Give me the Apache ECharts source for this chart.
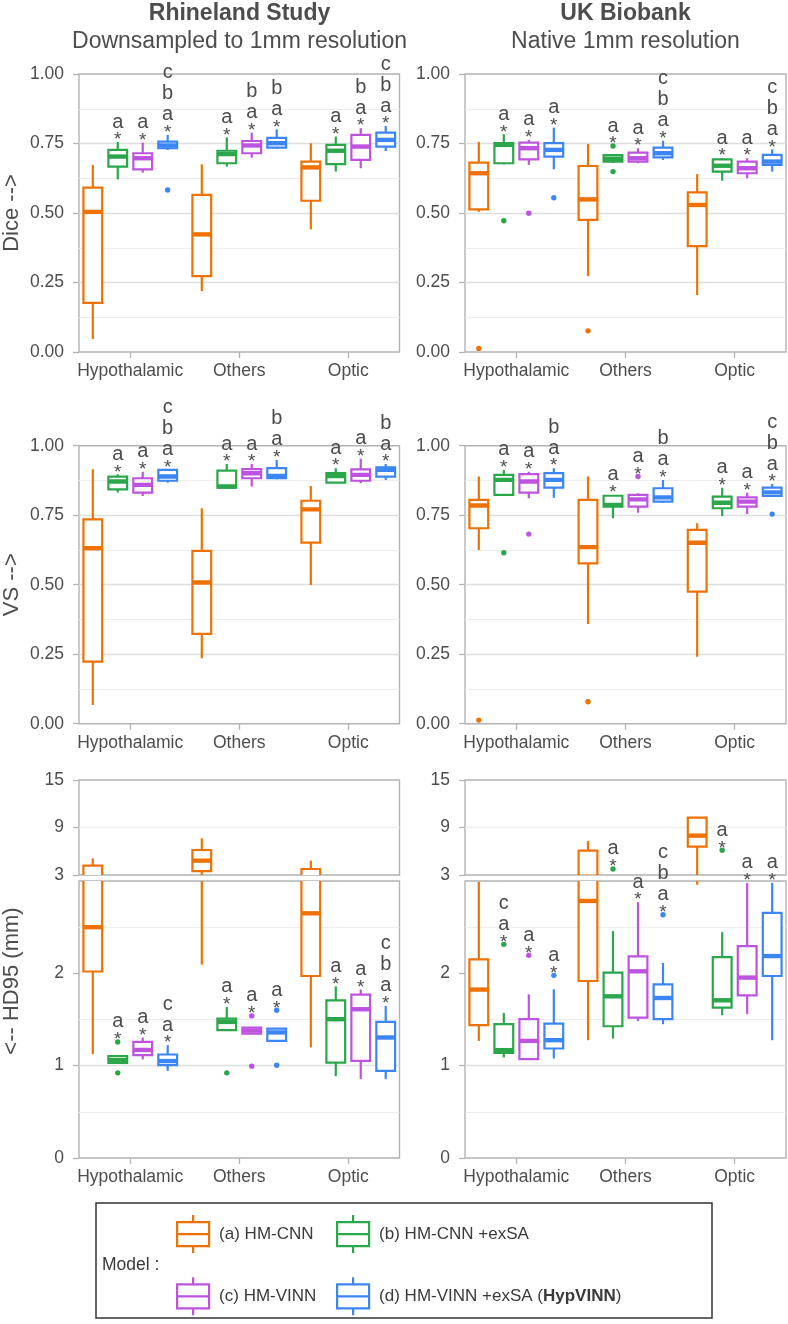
<!DOCTYPE html>
<html><head><meta charset="utf-8">
<script src="https://cdn.jsdelivr.net/npm/echarts@6/dist/echarts.min.js"></script>
<style>html,body{margin:0;padding:0;background:#fff}#chart{width:788px;height:1324px}</style>
</head><body><div id="chart"></div>
<script>
// ---------------- DATA ----------------
const categories = ['Hypothalamic', 'Others', 'Optic'];
const modelNames = ['(a) HM-CNN', '(b) HM-CNN +exSA', '(c) HM-VINN', '(d) HM-VINN +exSA (HypVINN)'];
const unitTicks = [0, 0.25, 0.5, 0.75, 1];
const hdUpperTicks = [3, 9, 15];
const hdLowerTicks = [0, 1, 2];

// box rows: [category index, model index, lower whisker, Q1, median, Q3, upper whisker]
const diceRS = [
  [0,0,0.047,0.177,0.504,0.591,0.673],[0,1,0.621,0.667,0.703,0.727,0.755],[0,2,0.645,0.657,0.697,0.715,0.753],[0,3,0.727,0.733,0.743,0.757,0.781],
  [1,0,0.219,0.273,0.423,0.565,0.675],[1,1,0.667,0.679,0.712,0.724,0.772],[1,2,0.699,0.715,0.743,0.759,0.789],[1,3,0.731,0.735,0.751,0.770,0.801],
  [2,0,0.441,0.544,0.664,0.685,0.751],[2,1,0.649,0.676,0.724,0.745,0.775],[2,2,0.661,0.691,0.739,0.781,0.805],[2,3,0.723,0.739,0.763,0.789,0.813]
];
const diceRSOut = [[0,3,0.583]];
const diceRSSig = [[0,1,'a'],[0,2,'a'],[0,3,'abc'],[1,1,'a'],[1,2,'ab'],[1,3,'ab'],[2,1,'a'],[2,2,'ab'],[2,3,'abc']];

const diceUKB = [
  [0,0,0.504,0.513,0.643,0.681,0.756],[0,1,0.675,0.679,0.745,0.751,0.783],[0,2,0.673,0.693,0.733,0.753,0.763],[0,3,0.657,0.703,0.727,0.751,0.807],
  [1,0,0.273,0.475,0.549,0.669,0.748],[1,1,0.680,0.685,0.695,0.708,0.712],[1,2,0.679,0.685,0.697,0.717,0.733],[1,3,0.691,0.700,0.715,0.735,0.760],
  [2,0,0.205,0.381,0.529,0.574,0.640],[2,1,0.616,0.649,0.670,0.693,0.697],[2,2,0.625,0.643,0.661,0.685,0.697],[2,3,0.649,0.673,0.685,0.709,0.729]
];
const diceUKBOut = [[0,0,0.013],[0,1,0.472],[0,2,0.499],[0,3,0.555],[1,0,0.076],[1,1,0.741],[1,1,0.649]];
const diceUKBSig = [[0,1,'a'],[0,2,'a'],[0,3,'a'],[1,1,'a'],[1,2,'a'],[1,3,'abc'],[2,1,'a'],[2,2,'a'],[2,3,'abc']];

const vsRS = [
  [0,0,0.067,0.223,0.631,0.735,0.915],[0,1,0.832,0.843,0.871,0.889,0.897],[0,2,0.819,0.831,0.859,0.883,0.906],[0,3,0.867,0.874,0.889,0.913,0.915],
  [1,0,0.235,0.323,0.508,0.622,0.775],[1,1,0.847,0.849,0.853,0.910,0.934],[1,2,0.853,0.883,0.901,0.916,0.934],[1,3,0.879,0.883,0.891,0.919,0.949],
  [2,0,0.499,0.651,0.771,0.802,0.855],[2,1,0.865,0.867,0.891,0.901,0.919],[2,2,0.865,0.874,0.895,0.915,0.953],[2,3,0.877,0.889,0.913,0.922,0.934]
];
const vsRSOut = [];
const vsRSSig = [[0,1,'a'],[0,2,'a'],[0,3,'abc'],[1,1,'a'],[1,2,'a'],[1,3,'ab'],[2,1,'a'],[2,2,'a'],[2,3,'ab']];

const vsUKB = [
  [0,0,0.625,0.703,0.785,0.805,0.889],[0,1,0.823,0.823,0.877,0.895,0.913],[0,2,0.811,0.831,0.871,0.898,0.906],[0,3,0.813,0.849,0.877,0.901,0.919],
  [1,0,0.359,0.577,0.635,0.805,0.889],[1,1,0.739,0.781,0.787,0.820,0.823],[1,2,0.759,0.781,0.807,0.823,0.829],[1,3,0.795,0.799,0.814,0.847,0.877],
  [2,0,0.241,0.475,0.651,0.697,0.721],[2,1,0.747,0.775,0.795,0.817,0.849],[2,2,0.754,0.781,0.799,0.814,0.831],[2,3,0.819,0.819,0.832,0.849,0.862]
];
const vsUKBOut = [[0,0,0.013],[0,1,0.615],[0,2,0.682],[1,0,0.079],[1,2,0.889],[2,3,0.754]];
const vsUKBSig = [[0,1,'a'],[0,2,'a'],[0,3,'ab'],[1,1,'a'],[1,2,'a'],[1,3,'ab'],[2,1,'a'],[2,2,'a'],[2,3,'abc']];

const hdRS = [
  [0,0,1.124,2.02,2.50,4.18,5.1],[0,1,1.02,1.031,1.059,1.103,1.11],[0,2,1.067,1.114,1.17,1.257,1.305],[0,3,0.944,1.005,1.05,1.121,1.222],
  [1,0,2.094,3.5,4.81,6.16,7.63],[1,1,1.384,1.384,1.474,1.510,1.636],[1,2,1.348,1.348,1.38,1.413,1.413],[1,3,1.268,1.268,1.36,1.402,1.402],
  [2,0,1.197,1.971,2.65,3.76,4.81],[2,1,0.886,1.034,1.503,1.708,1.859],[2,2,0.854,1.052,1.611,1.770,1.824],[2,3,0.854,0.944,1.305,1.474,1.647]
];
const hdRSOut = [[0,1,1.257],[0,1,0.922],[1,1,0.922],[1,2,1.539],[1,2,0.995],[1,3,1.6],[1,3,1.005]];
const hdRSSig = [[0,1,'a'],[0,2,'a'],[0,3,'ac'],[1,1,'a'],[1,2,'a'],[1,3,'a'],[2,1,'a'],[2,2,'a'],[2,3,'abc']];

const hdUKB = [
  [0,0,1.268,1.438,1.824,2.151,2.99],[0,1,1.089,1.139,1.168,1.449,1.571],[0,2,1.070,1.070,1.268,1.503,1.773],[0,3,1.078,1.186,1.276,1.456,1.827],
  [1,0,1.276,1.917,2.784,6.07,7.29],[1,1,1.294,1.427,1.751,2.008,2.457],[1,2,1.484,1.521,2.022,2.184,2.771],[1,3,1.449,1.503,1.733,1.881,2.112],
  [2,0,2.96,6.58,7.97,10.24,10.3],[2,1,1.546,1.629,1.708,2.176,2.446],[2,2,1.557,1.762,1.954,2.295,2.98],[2,3,1.276,1.971,2.187,2.655,2.98]
];
const hdUKBOut = [[0,1,2.314],[0,2,2.195],[0,3,1.978],[1,1,3.76],[1,3,2.635],[2,1,6.12]];
const hdUKBSig = [[0,1,'ac'],[0,2,'a'],[0,3,'a'],[1,1,'a'],[1,2,'a'],[1,3,'abc'],[2,1,'a'],[2,2,'a'],[2,3,'a']];

// ---------------- STYLE / LAYOUT ----------------
const FONT = "'Liberation Sans', Arial, Helvetica, sans-serif";
const COLORS = ['#EE7203', '#2BA64A', '#BD53DF', '#3B86F3'];
const TEXT = '#4D4D4D';
const BORDER = '#B3B3B3';
const MAJOR = '#DEDEDE', MINOR = '#EDEDED';
const SLOT = 0.229, BOXW = 0.172;
const cols = [{left: 79, width: 320.5}, {left: 465, width: 321}];

const panels = [
  {boxes: diceRS, out: diceRSOut, sig: diceRSSig, col: 0, row: 0},
  {boxes: diceUKB, out: diceUKBOut, sig: diceUKBSig, col: 1, row: 0},
  {boxes: vsRS, out: vsRSOut, sig: vsRSSig, col: 0, row: 1},
  {boxes: vsUKB, out: vsUKBOut, sig: vsUKBSig, col: 1, row: 1},
  {boxes: hdRS, out: hdRSOut, sig: hdRSSig, col: 0, row: 2},
  {boxes: hdUKB, out: hdUKBOut, sig: hdUKBSig, col: 1, row: 2}
];
const rowGrids = [
  [{top: 74, height: 278, kind: 'unit', name: 'Dice -->'}],
  [{top: 445.7, height: 278, kind: 'unit', name: 'VS -->'}],
  [{top: 780, height: 95, kind: 'hdUp'}, {top: 881, height: 277, kind: 'hdLow'}]
];

const grids = [], xAxes = [], yAxes = [], series = [];

function axisFont(size) { return {fontFamily: FONT, fontSize: size, color: TEXT}; }

function makeBoxRenderer(m, outRows) {
  return function (params, api) {
    const cat = api.value(0);
    const unit = api.size([1, 0])[0];
    const cx = api.coord([cat, 0])[0] + (m - 1.5) * SLOT * unit;
    const hw = BOXW * unit / 2;
    const y = i => api.coord([cat, api.value(i)])[1];
    const yLow = y(1), yQ1 = y(2), yMed = y(3), yQ3 = y(4), yHigh = y(5);
    const color = COLORS[m];
    const children = [
      {type: 'line', shape: {x1: cx, y1: yHigh, x2: cx, y2: yQ3}, style: {stroke: color, lineWidth: 2.2}},
      {type: 'line', shape: {x1: cx, y1: yQ1, x2: cx, y2: yLow}, style: {stroke: color, lineWidth: 2.2}},
      {type: 'rect', shape: {x: cx - hw, y: yQ3, width: 2 * hw, height: yQ1 - yQ3}, style: {fill: '#fff', stroke: color, lineWidth: 2.2}},
      {type: 'line', shape: {x1: cx - hw, y1: yMed, x2: cx + hw, y2: yMed}, style: {stroke: color, lineWidth: 4.4}}
    ];
    outRows.forEach(r => {
      if (r[0] + 1 === cat && r[1] === m) {
        const py = api.coord([cat, r[2]])[1];
        children.push({type: 'circle', shape: {cx: cx, cy: py, r: 2.7}, style: {fill: color}});
      }
    });
    return {type: 'group', children};
  };
}

function makeLabelRenderer(letterList) {
  return function (params, api) {
    const cat = api.value(0), anchor = api.value(1), m = api.value(2);
    const unit = api.size([1, 0])[0];
    const cx = api.coord([cat, 0])[0] + (m - 1.5) * SLOT * unit;
    const ay = api.coord([cat, anchor])[1];
    const letters = letterList[params.dataIndex];
    const font = '20px ' + FONT;
    const children = [{type: 'text', x: cx, y: ay - 2,
      style: {text: '*', fill: TEXT, font: '19px ' + FONT, align: 'center', verticalAlign: 'middle', textAlign: 'center', textVerticalAlign: 'middle'}}];
    for (let i = 0; i < letters.length; i++) {
      children.push({type: 'text', x: cx, y: ay - 20 - 21 * i,
        style: {text: letters[i], fill: TEXT, font, align: 'center', verticalAlign: 'middle', textAlign: 'center', textVerticalAlign: 'middle'}});
    }
    return {type: 'group', children};
  };
}

panels.forEach(p => {
  rowGrids[p.row].forEach(g => {
    const gi = grids.length;
    grids.push({left: cols[p.col].left, width: cols[p.col].width, top: g.top, height: g.height,
      show: true, borderColor: BORDER, borderWidth: 1.4, backgroundColor: 'transparent', containLabel: false});
    const showX = g.kind !== 'hdUp';
    xAxes.push({gridIndex: gi, type: 'value', min: 0.53, max: 3.47,
      axisLine: {show: false}, splitLine: {show: false},
      axisTick: {show: showX, customValues: [1, 2, 3], length: 6, lineStyle: {color: BORDER, width: 1.3}},
      axisLabel: Object.assign({show: showX, customValues: [1, 2, 3], margin: 10,
        formatter: v => categories[Math.round(v) - 1] || ''}, axisFont(17.5))});
    let y;
    if (g.kind === 'unit') {
      y = {min: 0, max: 1, interval: 0.25,
        axisLabel: Object.assign({formatter: v => v.toFixed(2), margin: 15}, axisFont(17.5)),
        axisTick: {show: true, length: 6, lineStyle: {color: BORDER, width: 1.3}},
        splitLine: {show: true, showMinLine: false, showMaxLine: false, lineStyle: {color: MAJOR, width: 1.3}},
        minorTick: {show: false, splitNumber: 2},
        minorSplitLine: {show: true, lineStyle: {color: MINOR, width: 1}}};
      if (p.col === 0) {
        y.name = g.name; y.nameLocation = 'middle'; y.nameGap = 56;
        y.nameTextStyle = axisFont(22);
      }
    } else if (g.kind === 'hdUp') {
      y = {min: 3, max: 15, interval: 3,
        axisLabel: Object.assign({customValues: hdUpperTicks, margin: 15}, axisFont(17.5)),
        axisTick: {show: true, customValues: hdUpperTicks, length: 6, lineStyle: {color: BORDER, width: 1.3}},
        splitLine: {show: true, showMinLine: false, showMaxLine: false, lineStyle: {color: [MINOR, MAJOR], width: 1.3}}};
    } else {
      y = {min: 0, max: 3, interval: 1,
        axisLabel: Object.assign({customValues: hdLowerTicks, margin: 15}, axisFont(17.5)),
        axisTick: {show: true, customValues: hdLowerTicks, length: 6, lineStyle: {color: BORDER, width: 1.3}},
        splitLine: {show: true, showMinLine: false, showMaxLine: false, lineStyle: {color: MAJOR, width: 1.3}},
        minorTick: {show: false, splitNumber: 2},
        minorSplitLine: {show: true, lineStyle: {color: MINOR, width: 1}}};
    }
    yAxes.push(Object.assign({gridIndex: gi, type: 'value', axisLine: {show: false}}, y));

    // boxes
    for (let m = 0; m < 4; m++) {
      series.push({type: 'custom', name: modelNames[m], xAxisIndex: gi, yAxisIndex: gi, clip: true,
        itemStyle: {color: COLORS[m], borderColor: COLORS[m]}, silent: true,
        data: p.boxes.filter(r => r[1] === m).map(r => [r[0] + 1, r[2], r[3], r[4], r[5], r[6]]),
        encode: {x: 0, y: [1, 2, 3, 4, 5]},
        renderItem: makeBoxRenderer(m, p.out)});
    }
    // significance labels
    const lData = [], lLetters = [];
    p.sig.forEach(s => {
      const box = p.boxes.find(r => r[0] === s[0] && r[1] === s[1]);
      let anchor = box[6];
      p.out.forEach(o => { if (o[0] === s[0] && o[1] === s[1]) anchor = Math.max(anchor, o[2]); });
      const inGrid = g.kind === 'unit' || (g.kind === 'hdUp' ? anchor > 3 : anchor <= 3);
      if (inGrid) { lData.push([s[0] + 1, anchor, s[1]]); lLetters.push(s[2]); }
    });
    series.push({type: 'custom', name: 'sig', xAxisIndex: gi, yAxisIndex: gi, clip: false, silent: true, z: 5,
      data: lData, encode: {x: 0, y: 1}, renderItem: makeLabelRenderer(lLetters)});
  });
});

const legendIcon = 'path://M16,0L16,7M0,7L32,7L32,31L0,31ZM0,19L32,19M16,31L16,38';
const legendItem = m => ({name: modelNames[m], icon: legendIcon,
  itemStyle: {color: '#fff', borderColor: COLORS[m], borderWidth: 2.2, opacity: 1}});
const legendCommon = {orient: 'vertical', top: 1214, itemWidth: 32, itemHeight: 38, itemGap: 22, padding: 0,
  icon: legendIcon, selectedMode: false,
  textStyle: {fontFamily: FONT, fontSize: 17, color: '#3A3A3A', padding: [0, 0, 0, 5],
    rich: {b: {fontFamily: FONT, fontSize: 17, fontWeight: 'bold', color: '#3A3A3A'}}},
  formatter: name => name.replace('(HypVINN)', '({b|HypVINN})')};

const option = {
  animation: false,
  backgroundColor: '#fff',
  title: [
    {text: 'Rhineland Study', subtext: 'Downsampled to 1mm resolution', left: 239.5, top: 2, textAlign: 'center', padding: 0, itemGap: 5,
      textStyle: {fontFamily: FONT, fontSize: 23, fontWeight: 'bold', color: TEXT},
      subtextStyle: {fontFamily: FONT, fontSize: 23, color: TEXT}},
    {text: 'UK Biobank', subtext: 'Native 1mm resolution', left: 625.5, top: 2, textAlign: 'center', padding: 0, itemGap: 5,
      textStyle: {fontFamily: FONT, fontSize: 23, fontWeight: 'bold', color: TEXT},
      subtextStyle: {fontFamily: FONT, fontSize: 23, color: TEXT}}
  ],
  grid: grids, xAxis: xAxes, yAxis: yAxes, series,
  legend: [
    Object.assign({left: 176, data: [legendItem(0), legendItem(2)]}, legendCommon),
    Object.assign({left: 336, data: [legendItem(1), legendItem(3)]}, legendCommon)
  ],
  graphic: [
    {type: 'text', x: 12, y: 981, rotation: Math.PI / 2,
      style: {text: '<-- HD95 (mm)', font: '22px ' + FONT, fill: TEXT, align: 'center', verticalAlign: 'middle'}},
    {type: 'rect', shape: {x: 96, y: 1203, width: 616, height: 115}, style: {fill: 'none', stroke: '#333', lineWidth: 1.5}, z: -1},
    {type: 'text', x: 102, y: 1265, style: {text: 'Model :', font: '17.5px ' + FONT, fill: '#3A3A3A', align: 'left', verticalAlign: 'middle'}}
  ]
};

const chart = echarts.init(document.getElementById('chart'), null, {renderer: 'canvas'});
chart.setOption(option);
</script>
</body></html>
